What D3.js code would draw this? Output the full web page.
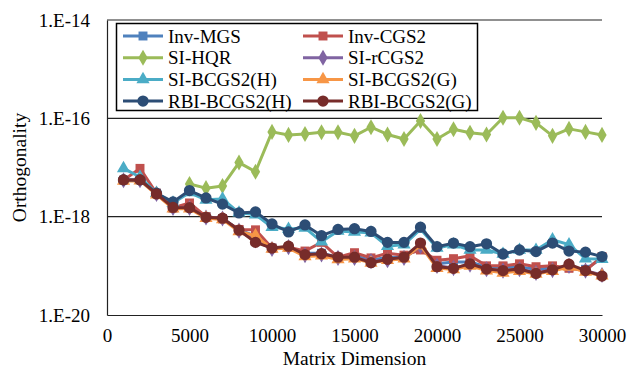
<!DOCTYPE html>
<html>
<head>
<meta charset="utf-8">
<script src="https://cdn.jsdelivr.net/npm/d3@7"></script>
<style>
  body { margin: 0; background: #fff; }
  text { font-family: "Liberation Serif", "Times New Roman", serif; }
</style>
</head>
<body>
<svg width="629" height="368"></svg>
<script>
let dims = [1000, 2000, 3000, 4000, 5000, 6000, 7000, 8000, 9000, 10000,
    11000, 12000, 13000, 14000, 15000, 16000, 17000, 18000, 19000, 20000,
    21000, 22000, 23000, 24000, 25000, 26000, 27000, 28000, 29000, 30000];

let xTicks = [0, 5000, 10000, 15000, 20000, 25000, 30000];
let yTicks = [1e-20, 1e-18, 1e-16, 1e-14];

let invMGS = [5.5e-18, 5.6e-18, 3.0e-18, 1.5e-18, 1.6e-18, 1.0e-18, 9.2e-19, 5.4e-19, 4.0e-19, 2.3e-19,
    2.4e-19, 1.8e-19, 1.8e-19, 1.5e-19, 1.6e-19, 1.3e-19, 1.5e-19, 1.5e-19, 2.4e-19, 1.1e-19,
    1.2e-19, 1.2e-19, 9.5e-20, 9.5e-20, 9.5e-20, 8.5e-20, 9.0e-20, 9.5e-20, 8.5e-20, 1.45e-19];
let invCGS2 = [5.5e-18, 9.6e-18, 3.0e-18, 1.5e-18, 1.9e-18, 1.0e-18, 9.0e-19, 5.5e-19, 5.4e-19, 2.3e-19,
    2.4e-19, 2.0e-19, 3.0e-19, 1.5e-19, 1.85e-19, 1.45e-19, 1.8e-19, 1.65e-19, 2.1e-19, 1.3e-19,
    1.4e-19, 1.6e-19, 1.0e-19, 1.0e-19, 1.1e-19, 9.6e-20, 1.0e-19, 8.9e-20, 8.0e-20, 1.54e-19];
let siHQR = [null, null, null, null, 4.6e-18, 3.8e-18, 4.2e-18, 1.26e-17, 8.2e-18, 5.3e-17,
    4.6e-17, 4.8e-17, 5.2e-17, 5.2e-17, 4.4e-17, 6.6e-17, 4.7e-17, 3.8e-17, 8.8e-17, 3.8e-17,
    6.0e-17, 5.1e-17, 4.7e-17, 1.03e-16, 1.03e-16, 8.1e-17, 4.4e-17, 6.1e-17, 5.3e-17, 4.6e-17];
let siRCGS2 = [5.5e-18, 5.5e-18, 2.9e-18, 1.5e-18, 1.5e-18, 9.6e-19, 9.2e-19, 5.2e-19, 3.3e-19, 2.2e-19,
    2.4e-19, 1.65e-19, 1.7e-19, 1.45e-19, 1.45e-19, 1.25e-19, 1.3e-19, 1.45e-19, 2.5e-19, 1.0e-19,
    9.0e-20, 1.05e-19, 8.5e-20, 8.0e-20, 8.5e-20, 7.2e-20, 8.2e-20, 1.0e-19, 8.0e-20, 6.5e-20];
let siBCGS2H = [9.6e-18, 6.4e-18, 3.0e-18, 1.9e-18, 3.1e-18, 2.2e-18, 2.3e-18, 1.2e-18, 1.1e-18, 6.1e-19,
    5.6e-19, 5.9e-19, 3.1e-19, 5.1e-19, 4.9e-19, 4.7e-19, 2.5e-19, 2.7e-19, 5.6e-19, 2.3e-19,
    2.7e-19, 2.1e-19, 2.1e-19, 1.74e-19, 2.1e-19, 2.1e-19, 3.4e-19, 2.7e-19, 1.4e-19, 1.37e-19];
let siBCGS2G = [5.3e-18, 5.4e-18, 2.8e-18, 1.45e-18, 1.45e-18, 9.3e-19, 8.8e-19, 5.0e-19, 4.1e-19, 2.2e-19,
    2.3e-19, 1.55e-19, 1.6e-19, 1.35e-19, 1.4e-19, 1.15e-19, 1.3e-19, 1.4e-19, 2.6e-19, 9.0e-20,
    8.4e-20, 1.0e-19, 8.0e-20, 7.2e-20, 7.8e-20, 6.8e-20, 7.8e-20, 9.5e-20, 7.5e-20, 6.3e-20];
let rbiBCGS2H = [5.6e-18, 5.6e-18, 3.0e-18, 2.0e-18, 3.4e-18, 2.4e-18, 1.8e-18, 1.19e-18, 1.25e-18, 7.1e-19,
    4.9e-19, 6.8e-19, 4.1e-19, 5.5e-19, 5.7e-19, 5.0e-19, 3.0e-19, 3.0e-19, 6.1e-19, 2.45e-19,
    2.9e-19, 2.45e-19, 2.8e-19, 1.74e-19, 2.1e-19, 1.95e-19, 2.9e-19, 2.0e-19, 1.9e-19, 1.54e-19];
let rbiBCGS2G = [5.6e-18, 5.6e-18, 2.9e-18, 1.54e-18, 1.52e-18, 9.7e-19, 9.3e-19, 5.3e-19, 3.0e-19, 2.3e-19,
    2.5e-19, 1.69e-19, 1.76e-19, 1.5e-19, 1.5e-19, 1.16e-19, 1.36e-19, 1.5e-19, 2.9e-19, 9.6e-20,
    8.9e-20, 1.1e-19, 8.6e-20, 8.0e-20, 8.6e-20, 7.0e-20, 8.3e-20, 1.08e-19, 8.0e-20, 6.2e-20];

let series = [
    { name: 'Inv-MGS', values: invMGS, color: '#4f81bd', shape: d3.symbolSquare, size: 80 },
    { name: 'Inv-CGS2', values: invCGS2, color: '#c0504d', shape: d3.symbolSquare, size: 80 },
    { name: 'SI-HQR', values: siHQR, color: '#9bbb59', shape: d3.symbolDiamond, size: 75 },
    { name: 'SI-rCGS2', values: siRCGS2, color: '#8064a2', shape: d3.symbolDiamond, size: 75 },
    { name: 'SI-BCGS2(H)', values: siBCGS2H, color: '#4bacc6', shape: d3.symbolTriangle, size: 75 },
    { name: 'SI-BCGS2(G)', values: siBCGS2G, color: '#f79646', shape: d3.symbolTriangle, size: 75 },
    { name: 'RBI-BCGS2(H)', values: rbiBCGS2H, color: '#2c4d75', shape: d3.symbolCircle, size: 100 },
    { name: 'RBI-BCGS2(G)', values: rbiBCGS2G, color: '#772c2a', shape: d3.symbolCircle, size: 100 }
];

let svg = d3.select('svg');
let margin = { top: 20, right: 27, bottom: 53, left: 107 };
let width = +svg.attr('width');
let height = +svg.attr('height');

let x = d3.scaleLinear()
    .domain([0, 30000])
    .range([margin.left, width - margin.right]);

let y = d3.scaleLog()
    .domain([1e-20, 1e-14])
    .range([height - margin.bottom, margin.top]);

// gridlines
svg.append('g')
    .selectAll('line')
    .data(yTicks.slice(1))
    .enter().append('line')
    .attr('x1', x(0))
    .attr('x2', x(30000))
    .attr('y1', d => y(d))
    .attr('y2', d => y(d))
    .style('stroke', '#222')
    .style('stroke-width', 1.2);

// axes
let yAxis = svg.append('g')
    .attr('transform', 'translate(' + margin.left + ',0)')
    .call(d3.axisLeft(y).tickValues(yTicks).tickSize(0).tickPadding(17)
        .tickFormat(d => '1.E' + Math.round(Math.log10(d))));

let xAxis = svg.append('g')
    .attr('transform', 'translate(0,' + (height - margin.bottom) + ')')
    .call(d3.axisBottom(x).tickValues(xTicks).tickSize(0).tickPadding(14)
        .tickFormat(d3.format('d')));

[yAxis, xAxis].forEach(a => {
    a.select('.domain').style('stroke', '#222').style('stroke-width', 1.2);
    a.selectAll('text').style('font-size', '19px').style('fill', '#000')
        .style('font-family', '"Liberation Serif", serif');
});

let line = d3.line()
    .defined(d => d.v !== null)
    .x(d => x(d.n))
    .y(d => y(d.v));

series.forEach(s => {
    let pts = dims.map((n, i) => ({ n: n, v: s.values[i] }));
    let g = svg.append('g');
    g.append('path')
        .datum(pts)
        .attr('d', line)
        .style('fill', 'none')
        .style('stroke', s.color)
        .style('stroke-width', 3)
        .style('stroke-linejoin', 'round');
    g.selectAll('path.m')
        .data(pts.filter(d => d.v !== null))
        .enter().append('path')
        .attr('class', 'm')
        .attr('transform', d => 'translate(' + x(d.n) + ',' + y(d.v) + ')')
        .attr('d', d3.symbol().type(s.shape).size(s.size))
        .style('fill', s.color);
});

// legend
let legend = svg.append('g');
legend.append('rect')
    .attr('x', 116.5)
    .attr('y', 23.5)
    .attr('width', 361)
    .attr('height', 87)
    .style('fill', '#fff')
    .style('stroke', '#000')
    .style('stroke-width', 1.5);

let item = legend.selectAll('g.item')
    .data(series)
    .enter().append('g')
    .attr('class', 'item')
    .attr('transform', (d, i) => 'translate(' + (i % 2 === 0 ? 123 : 303) + ',' + (36 + Math.floor(i / 2) * 21.7) + ')');

item.append('line')
    .attr('x1', 0).attr('x2', 40)
    .style('stroke', d => d.color)
    .style('stroke-width', 3);
item.append('path')
    .attr('transform', 'translate(20,0)')
    .attr('d', d => d3.symbol().type(d.shape).size(d.size)())
    .style('fill', d => d.color);
item.append('text')
    .attr('x', 45)
    .attr('y', 6.5)
    .style('font-size', '19px')
    .text(d => d.name);

// axis titles
svg.append('text')
    .attr('text-anchor', 'middle')
    .attr('transform', 'translate(' + 26 + ',' + ((margin.top + height - margin.bottom) / 2) + ')rotate(-90)')
    .style('font-size', '19.5px')
    .text('Orthogonality');

svg.append('text')
    .attr('text-anchor', 'middle')
    .attr('x', (margin.left + width - margin.right) / 2)
    .attr('y', 365)
    .style('font-size', '19.5px')
    .text('Matrix Dimension');
</script>
</body>
</html>
